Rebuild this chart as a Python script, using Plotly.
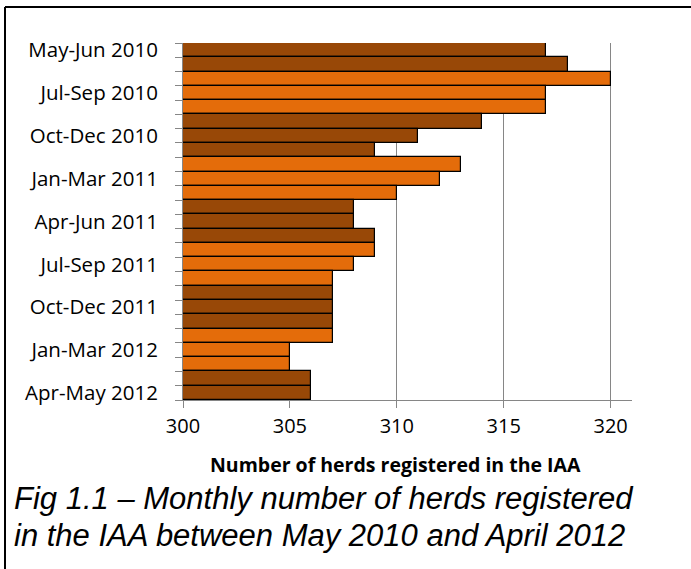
import plotly.graph_objects as go

# Monthly herd counts, May 2010 .. May 2012
months = [
    "May 2010", "Jun 2010", "Jul 2010", "Aug 2010", "Sep 2010", "Oct 2010",
    "Nov 2010", "Dec 2010", "Jan 2011", "Feb 2011", "Mar 2011", "Apr 2011",
    "May 2011", "Jun 2011", "Jul 2011", "Aug 2011", "Sep 2011", "Oct 2011",
    "Nov 2011", "Dec 2011", "Jan 2012", "Feb 2012", "Mar 2012", "Apr 2012",
    "May 2012",
]
herds = [317, 318, 320, 317, 317, 314, 311, 309, 313, 312, 310, 308,
         308, 309, 309, 308, 307, 307, 307, 307, 307, 305, 305, 306, 306]

# Period labels shown on the category axis (one every third month)
period_labels = ["May-Jun 2010", "Jul-Sep 2010", "Oct-Dec 2010", "Jan-Mar 2011",
                 "Apr-Jun 2011", "Jul-Sep 2011", "Oct-Dec 2011", "Jan-Mar 2012",
                 "Apr-May 2012"]
label_rows = [0, 3, 6, 9, 12, 15, 18, 21, 24]

x_ticks = [300, 305, 310, 315, 320]

DARK = "#984807"
ORANGE = "#E46C0A"
GREY = "#868686"

month_num = {m: i + 1 for i, m in enumerate(
    ["Jan", "Feb", "Mar", "Apr", "May", "Jun", "Jul", "Aug", "Sep", "Oct", "Nov", "Dec"])}
# quarters Apr-Jun and Oct-Dec are dark, Jan-Mar and Jul-Sep orange
colors = [DARK if ((month_num[m.split()[0]] - 1) // 3) % 2 == 1 else ORANGE for m in months]

rows = list(range(len(months)))

W, H = 691, 569
ML, MR, MT, MB = 183, 59, 43, 169
PW, PH = W - ML - MR, H - MT - MB


def px_x(p):
    return (p - ML) / PW


def px_y(p):
    return 1 - (p - MT) / PH


fig = go.Figure(go.Bar(
    x=herds, y=rows, orientation="h",
    marker=dict(color=colors, line=dict(color="black", width=1.2)),
    width=1.0,
    customdata=months,
    hovertemplate="%{customdata}: %{x}<extra></extra>",
))

font_main = "'Open Sans', Lato, sans-serif"

fig.update_layout(
    width=W, height=H,
    margin=dict(l=ML, r=MR, t=MT, b=MB),
    paper_bgcolor="white", plot_bgcolor="white",
    showlegend=False,
    bargap=0,
    xaxis=dict(
        range=[300, 321],
        tickvals=x_ticks,
        ticktext=[str(v) for v in x_ticks],
        showgrid=True, gridcolor=GREY, gridwidth=1,
        showline=True, linecolor=GREY, linewidth=1,
        ticks="outside", ticklen=7, tickcolor=GREY,
        tickfont=dict(family=font_main, size=20, color="black"),
        ticklabelstandoff=1,
        zeroline=False,
    ),
    yaxis=dict(
        range=[len(months) - 0.5, -0.5],
        tickvals=label_rows,
        ticktext=period_labels,
        ticks="",
        showgrid=False,
        showline=True, linecolor=GREY, linewidth=1,
        tickfont=dict(family=font_main, size=20.5, color="black"),
        ticklabelstandoff=20,
        zeroline=False,
        minor=dict(
            tickvals=[r - 0.5 for r in rows] + [rows[-1] + 0.5],
            ticks="outside", ticklen=7, tickcolor=GREY, showgrid=False,
        ),
    ),
)

# Horizontal axis title
fig.add_annotation(
    text="<b>Number of herds registered in the IAA</b>", xref="paper", yref="paper",
    x=px_x(395.5), y=px_y(464.5), xanchor="center", yanchor="middle", showarrow=False,
    font=dict(family=font_main, size=19.5, color="black"),
)

# Frame around the figure (top and left edges visible)
fig.add_shape(type="line", xref="paper", yref="paper",
              x0=px_x(5), x1=px_x(W + 5), y0=px_y(7), y1=px_y(7),
              line=dict(color="black", width=2))
fig.add_shape(type="line", xref="paper", yref="paper",
              x0=px_x(5), x1=px_x(5), y0=px_y(7), y1=px_y(H + 5),
              line=dict(color="black", width=2))

caption_lines = ["Fig 1.1 \u2013 Monthly number of herds registered",
                 "in the IAA between May 2010 and April 2012"]
for i, line in enumerate(caption_lines):
    fig.add_annotation(
        text="<i>" + line + "</i>", xref="paper", yref="paper",
        x=px_x(12), y=px_y(499 + 36.5 * i), xanchor="left", yanchor="middle",
        showarrow=False,
        font=dict(family="'Liberation Sans', Arial, sans-serif", size=31, color="black"),
    )

fig.write_html("out.html")
